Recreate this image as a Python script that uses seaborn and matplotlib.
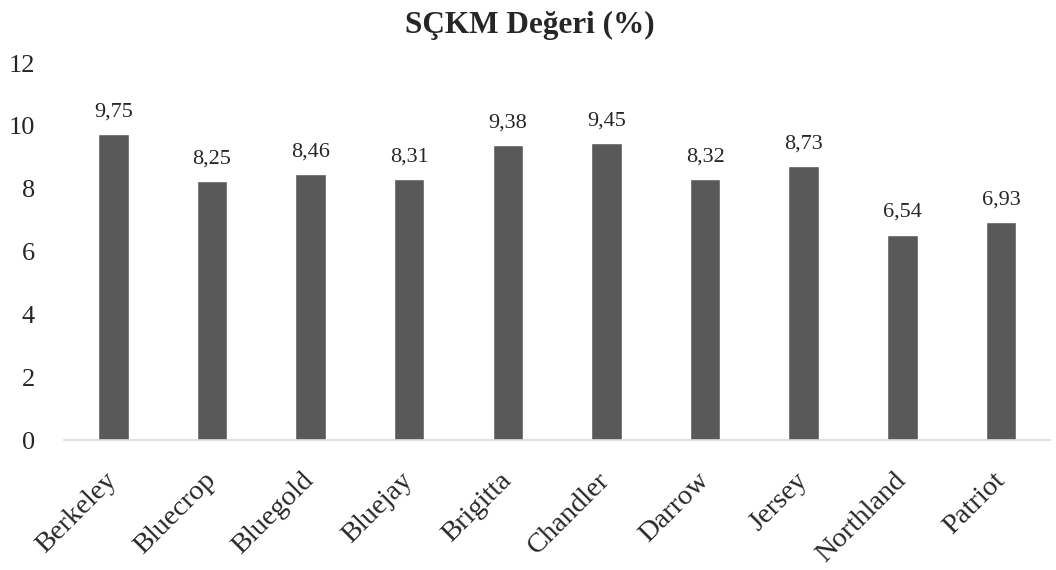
import matplotlib
matplotlib.use("Agg")
import matplotlib.pyplot as plt
import matplotlib.transforms as mtransforms
import seaborn as sns
import pandas as pd

# -----------------------------------------
# Data
# -----------------------------------------
varieties = ["Berkeley", "Bluecrop", "Bluegold", "Bluejay", "Brigitta",
             "Chandler", "Darrow", "Jersey", "Northland", "Patriot"]
values = [9.75, 8.25, 8.46, 8.31, 9.38, 9.45, 8.32, 8.73, 6.54, 6.93]
y_ticks = [0, 2, 4, 6, 8, 10, 12]

df = pd.DataFrame({"cesit": varieties, "deger": values})

# -----------------------------------------
# Style
# -----------------------------------------
sns.set_style("white")
plt.rcParams["font.family"] = ["Liberation Serif", "DejaVu Serif"]

fig = plt.figure(figsize=(10.56, 5.70), dpi=100)
ax = fig.add_axes([0.0606, 0.228, 0.934, 0.6614])

sns.barplot(data=df, x="cesit", y="deger", color="#595959",
            width=0.31, saturation=1, ax=ax)

for i, v in enumerate(values):
    ax.text(i, v + 0.4, f"{v:.2f}".replace(".", ","), ha="center",
            va="bottom", fontsize=16, color="#262626")

ax.set_ylim(0, 12)
ax.set_yticks(y_ticks)
ax.set_xlim(-0.5, len(varieties) - 0.5)
ax.tick_params(axis="y", labelsize=19, length=0, pad=21)
ax.tick_params(axis="x", labelsize=20.5, length=0, pad=20)

# shift rotated category labels a bit to the left
offset = mtransforms.ScaledTranslation(-9 / 100, 0, fig.dpi_scale_trans)
for lab in ax.get_xticklabels():
    lab.set_rotation(45)
    lab.set_ha("right")
    lab.set_rotation_mode("anchor")
    lab.set_transform(lab.get_transform() + offset)

ax.set_xlabel("")
ax.set_ylabel("")
for s in ["top", "right", "left"]:
    ax.spines[s].set_visible(False)
ax.spines["bottom"].set_color("#d9d9d9")
ax.spines["bottom"].set_linewidth(1.2)

fig.text(0.502, 0.956, "SÇKM Değeri (%)", ha="center", va="center",
         fontsize=22.5, fontweight="bold")

fig.savefig("out.png", dpi=100)
